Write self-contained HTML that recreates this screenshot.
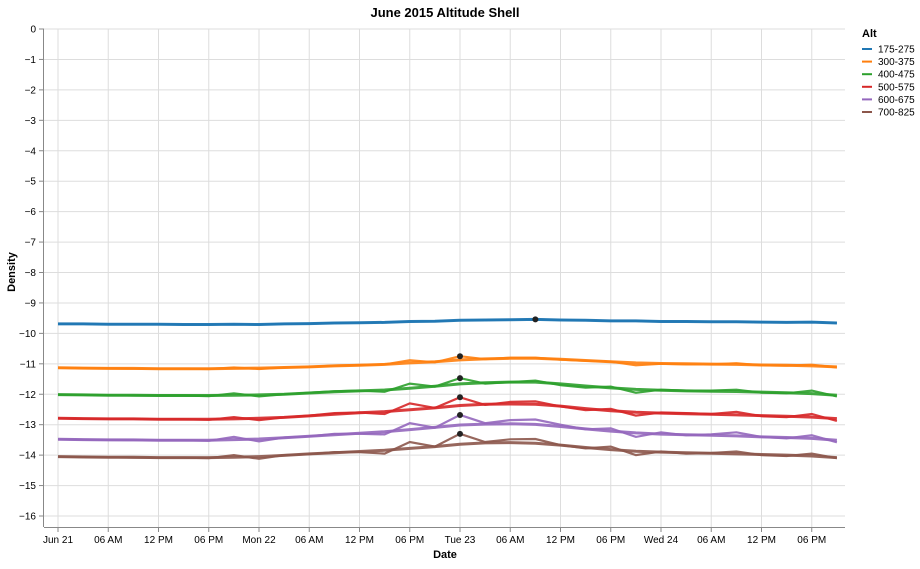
<!DOCTYPE html>
<html><head><meta charset="utf-8"><style>
body{margin:0;background:#fff;font-family:"Liberation Sans",Arial,sans-serif}
svg text{font-family:"Liberation Sans",Arial,sans-serif}
</style></head><body>
<svg id="chart" width="920" height="564" xmlns="http://www.w3.org/2000/svg">
<rect width="920" height="564" fill="#fff"/>
<g id="grid"></g>
<g id="series"></g>
<g id="axes"></g>
<text x="445" y="17" text-anchor="middle" font-size="13" font-weight="bold">June 2015 Altitude Shell</text>
<text x="445" y="558" text-anchor="middle" font-size="11" font-weight="bold">Date</text>
<text transform="translate(15,272) rotate(-90)" text-anchor="middle" font-size="11" font-weight="bold">Density</text>
<g id="legend"></g>
</svg>
<script>
const altLabels=["175-275","300-375","400-475","500-575","600-675","700-825"];
const colors=["#1f77b4","#ff7f0e","#2ca02c","#d62728","#9467bd","#8c564b"];
const hours=[0,3,6,9,12,15,18,21,24,27,30,33,36,39,42,45,48,51,54,57,60,63,66,69,72,75,78,81,84,87,90,93];
const blueRaw=[-9.69,-9.69,-9.70,-9.70,-9.70,-9.71,-9.71,-9.70,-9.71,-9.69,-9.68,-9.66,-9.65,-9.64,-9.61,-9.60,-9.57,-9.56,-9.55,-9.54,-9.56,-9.57,-9.59,-9.59,-9.61,-9.61,-9.62,-9.62,-9.63,-9.64,-9.63,-9.66];
const blueSmooth=[-9.69,-9.69,-9.70,-9.70,-9.70,-9.71,-9.71,-9.70,-9.71,-9.69,-9.68,-9.66,-9.65,-9.64,-9.61,-9.60,-9.57,-9.56,-9.55,-9.54,-9.56,-9.57,-9.59,-9.59,-9.61,-9.61,-9.62,-9.62,-9.63,-9.64,-9.63,-9.66];
const orangeRaw=[-11.13,-11.14,-11.15,-11.16,-11.16,-11.16,-11.17,-11.12,-11.17,-11.12,-11.10,-11.06,-11.04,-11.02,-10.88,-10.95,-10.75,-10.85,-10.80,-10.80,-10.86,-10.90,-10.93,-11.05,-11.00,-11.02,-11.02,-10.98,-11.05,-11.06,-11.03,-11.12];
const orangeSmooth=[-11.13,-11.14,-11.15,-11.15,-11.16,-11.16,-11.16,-11.15,-11.14,-11.12,-11.10,-11.07,-11.05,-11.02,-10.97,-10.93,-10.87,-10.84,-10.82,-10.82,-10.85,-10.89,-10.93,-10.97,-10.99,-11.00,-11.01,-11.02,-11.04,-11.05,-11.07,-11.10];
const greenRaw=[-12.01,-12.02,-12.03,-12.04,-12.04,-12.04,-12.06,-11.97,-12.07,-12.00,-11.95,-11.90,-11.88,-11.92,-11.65,-11.75,-11.47,-11.65,-11.60,-11.55,-11.70,-11.78,-11.75,-11.95,-11.85,-11.88,-11.88,-11.85,-11.95,-11.97,-11.88,-12.07];
const greenSmooth=[-12.01,-12.02,-12.03,-12.03,-12.04,-12.04,-12.04,-12.03,-12.02,-12.00,-11.96,-11.92,-11.89,-11.86,-11.80,-11.74,-11.66,-11.62,-11.60,-11.60,-11.66,-11.73,-11.79,-11.84,-11.87,-11.89,-11.90,-11.91,-11.93,-11.95,-11.98,-12.03];
const redRaw=[-12.79,-12.80,-12.81,-12.81,-12.82,-12.82,-12.84,-12.75,-12.85,-12.76,-12.70,-12.62,-12.60,-12.65,-12.30,-12.45,-12.10,-12.35,-12.25,-12.23,-12.40,-12.52,-12.48,-12.70,-12.60,-12.62,-12.65,-12.58,-12.72,-12.75,-12.65,-12.88];
const redSmooth=[-12.79,-12.80,-12.81,-12.81,-12.82,-12.82,-12.82,-12.81,-12.79,-12.76,-12.71,-12.66,-12.61,-12.57,-12.51,-12.45,-12.37,-12.33,-12.32,-12.33,-12.39,-12.47,-12.54,-12.59,-12.62,-12.64,-12.66,-12.68,-12.70,-12.72,-12.75,-12.80];
const purpleRaw=[-13.48,-13.49,-13.50,-13.51,-13.51,-13.51,-13.53,-13.40,-13.55,-13.42,-13.38,-13.30,-13.30,-13.32,-12.95,-13.10,-12.68,-12.95,-12.85,-12.83,-13.00,-13.15,-13.12,-13.40,-13.25,-13.35,-13.32,-13.25,-13.40,-13.45,-13.35,-13.58];
const purpleSmooth=[-13.48,-13.49,-13.50,-13.50,-13.51,-13.51,-13.51,-13.49,-13.47,-13.43,-13.38,-13.33,-13.28,-13.23,-13.16,-13.09,-13.01,-12.98,-12.97,-12.99,-13.06,-13.14,-13.21,-13.27,-13.31,-13.33,-13.35,-13.37,-13.40,-13.42,-13.45,-13.51];
const brownRaw=[-14.05,-14.06,-14.07,-14.08,-14.08,-14.08,-14.10,-14.00,-14.12,-14.00,-13.97,-13.90,-13.90,-13.95,-13.57,-13.72,-13.30,-13.57,-13.48,-13.47,-13.67,-13.78,-13.72,-14.00,-13.88,-13.95,-13.93,-13.88,-14.00,-14.03,-13.95,-14.10];
const brownSmooth=[-14.05,-14.06,-14.07,-14.07,-14.08,-14.08,-14.08,-14.07,-14.05,-14.01,-13.96,-13.92,-13.88,-13.84,-13.78,-13.72,-13.64,-13.60,-13.59,-13.61,-13.67,-13.75,-13.82,-13.87,-13.90,-13.92,-13.94,-13.96,-13.98,-14.00,-14.03,-14.08];
const rawSeries=[blueRaw,orangeRaw,greenRaw,redRaw,purpleRaw,brownRaw];
const smoothSeries=[blueSmooth,orangeSmooth,greenSmooth,redSmooth,purpleSmooth,brownSmooth];
const yTicks=[0,-1,-2,-3,-4,-5,-6,-7,-8,-9,-10,-11,-12,-13,-14,-15,-16];
const xTickHours=[0,6,12,18,24,30,36,42,48,54,60,66,72,78,84,90];
const xTickLabels=["Jun 21","06 AM","12 PM","06 PM","Mon 22","06 AM","12 PM","06 PM","Tue 23","06 AM","12 PM","06 PM","Wed 24","06 AM","12 PM","06 PM"];

const L=44,R=845,T=29,B=527;
const x=h=>58+h*(201/24);
const y=v=>29-v*(487/16);
const NS="http://www.w3.org/2000/svg";
function mk(tag,attrs,parent){const e=document.createElementNS(NS,tag);for(const k in attrs)e.setAttribute(k,attrs[k]);parent.appendChild(e);return e;}
const grid=document.getElementById('grid'),axes=document.getElementById('axes'),ser=document.getElementById('series'),leg=document.getElementById('legend');
xTickHours.forEach((h,i)=>{
  const gl=mk('line',{x1:x(h),x2:x(h),y1:T,y2:B,stroke:'#ddd'},grid);
  
  
  const tk=mk('line',{x1:x(h),x2:x(h),y1:B,y2:B+5,stroke:'#888'},axes);
  
  
  const t=mk('text',{x:x(h),y:B+16,'text-anchor':'middle','font-size':10,fill:'#000'},axes);
  
  
  t.textContent=xTickLabels[i];
});
yTicks.forEach(v=>{
  const gl=mk('line',{x1:L,x2:R,y1:y(v),y2:y(v),stroke:'#ddd'},grid);
  
  
  const tk=mk('line',{x1:L-5,x2:L,y1:y(v),y2:y(v),stroke:'#888'},axes);
  
  
  const t=mk('text',{x:L-8,y:y(v)+3.5,'text-anchor':'end','font-size':10,fill:'#000'},axes);
  
  
  t.textContent=v===0?'0':'\u2212'+Math.abs(v);
});
const xa=mk('line',{x1:L,x2:R,y1:B+0.5,y2:B+0.5,stroke:'#888'},axes);


const ya=mk('line',{x1:L-0.5,x2:L-0.5,y1:T,y2:B,stroke:'#888'},axes);


const pts=a=>a.map((v,i)=>x(hours[i]).toFixed(1)+','+y(v).toFixed(1)).join(' ');
rawSeries.forEach((raw,s)=>{
  const p1=mk('polyline',{points:pts(smoothSeries[s]),fill:'none',stroke:colors[s],'stroke-width':3,'stroke-opacity':0.9},ser);
  
  
  const p2=mk('polyline',{points:pts(raw),fill:'none',stroke:colors[s],'stroke-width':2.2,'stroke-opacity':0.9},ser);
  
  
});
rawSeries.forEach((raw,s)=>{
  let mi=0;raw.forEach((v,i)=>{if(v>raw[mi])mi=i;});
  const c=mk('circle',{cx:x(hours[mi]),cy:y(raw[mi]),r:3,fill:'#222'},ser);
  
  
});
const lt=mk('text',{x:862,y:37,'font-size':11,'font-weight':'bold'},leg);


lt.textContent='Alt';
altLabels.forEach((lab,i)=>{
  const yy=49+i*12.6;
  const g=mk('g',{},leg);
  
  
  mk('line',{x1:862,x2:872,y1:yy,y2:yy,stroke:colors[i],'stroke-width':2},g);
  const t=mk('text',{x:878,y:yy+3.5,'font-size':10},g);
  t.textContent=lab;
});
</script>
</body></html>
